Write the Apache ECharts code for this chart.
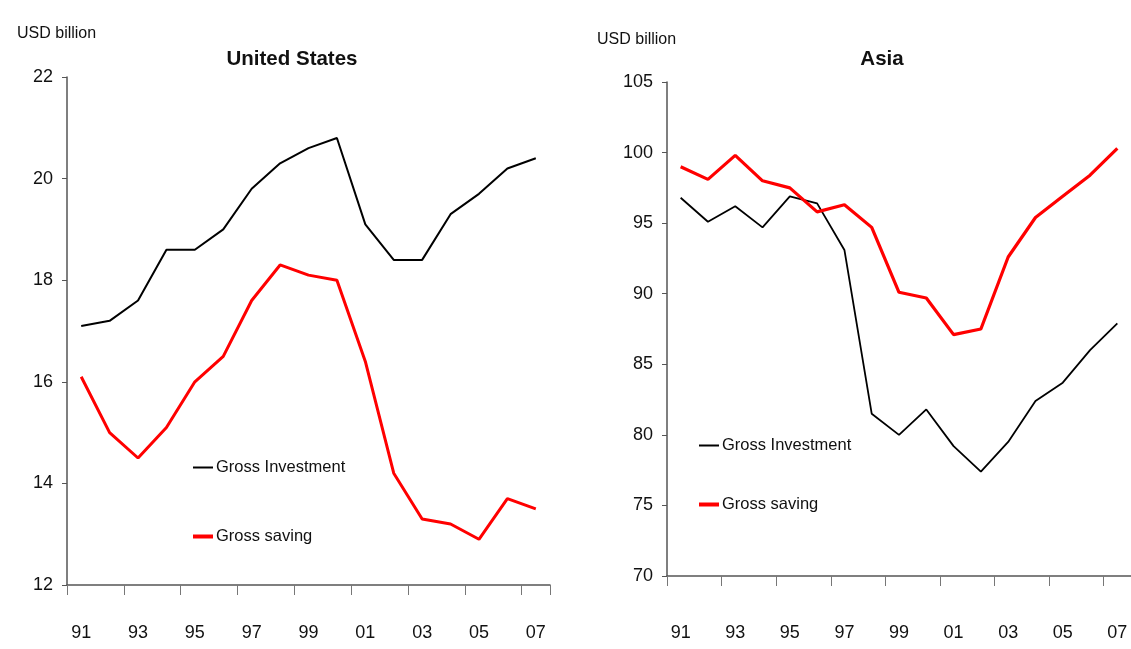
<!DOCTYPE html>
<html>
<head>
<meta charset="utf-8">
<script src="https://cdn.jsdelivr.net/npm/echarts@6/dist/echarts.min.js"></script>
<style>
html,body{margin:0;padding:0;background:#fff;}
#chart{width:1131px;height:649px;}
</style>
</head>
<body>
<div id="chart"></div>
<script>
const years = ['91','92','93','94','95','96','97','98','99','00','01','02','03','04','05','06','07'];
const usInvestment = [17.1,17.2,17.6,18.6,18.6,19.0,19.8,20.3,20.6,20.8,19.1,18.4,18.4,19.3,19.7,20.2,20.4];
const usSaving = [16.1,15.0,14.5,15.1,16.0,16.5,17.6,18.3,18.1,18.0,16.4,14.2,13.3,13.2,12.9,13.7,13.5];
const asiaInvestment = [96.8,95.1,96.2,94.7,96.9,96.4,93.1,81.5,80.0,81.8,79.2,77.4,79.5,82.4,83.7,86.0,87.9];
const asiaSaving = [99.0,98.1,99.8,98.0,97.5,95.8,96.3,94.7,90.1,89.7,87.1,87.5,92.6,95.4,96.9,98.4,100.3];
const usTicks = {min:12, max:22, interval:2};
const asiaTicks = {min:70, max:105, interval:5};

const FONT = "'Liberation Sans','Arial',sans-serif";
const chart = echarts.init(document.getElementById('chart'), null, {renderer:'canvas'});

function xAxisCfg(gridIndex, margin){
  return {
    type:'category', gridIndex, data:years, boundaryGap:true,
    axisLine:{show:true, lineStyle:{color:'#555', width:1.5}},
    axisTick:{show:true, interval:1, length:10, alignWithLabel:false, lineStyle:{color:'#777', width:1}},
    axisLabel:{interval:1, margin, fontFamily:FONT, fontSize:18, color:'#111'},
    splitLine:{show:false}
  };
}
function yAxisCfg(gridIndex, t){
  return {
    type:'value', gridIndex, min:t.min, max:t.max, interval:t.interval,
    axisLine:{show:true, lineStyle:{color:'#555', width:1.5}},
    axisTick:{show:true, length:5, lineStyle:{color:'#555', width:1}},
    axisLabel:{margin:14, fontFamily:FONT, fontSize:18, color:'#111'},
    splitLine:{show:false}
  };
}
function legendCfg(name, left, top, h){
  return {
    data:[{name, icon:'rect'}], left, top, padding:0, orient:'horizontal',
    itemWidth:20, itemHeight:h, itemGap:4, selectedMode:false,
    textStyle:{fontFamily:FONT, fontSize:16.5, color:'#111', padding:[0,0,0,-2]}
  };
}

const option = {
  backgroundColor:'#fff',
  animation:false,
  title:[
    {text:'United States', left:287, top:44, textAlign:'center', textStyle:{fontFamily:FONT, fontSize:20.5, fontWeight:'bold', color:'#111'}},
    {text:'Asia', left:877, top:44, textAlign:'center', textStyle:{fontFamily:FONT, fontSize:20.5, fontWeight:'bold', color:'#111'}},
    {text:'USD billion', left:12, top:21, textStyle:{fontFamily:FONT, fontSize:16, fontWeight:'normal', color:'#111'}},
    {text:'USD billion', left:592, top:27, textStyle:{fontFamily:FONT, fontSize:16, fontWeight:'normal', color:'#111'}}
  ],
  grid:[
    {left:67, right:581, top:77, bottom:64},
    {left:667, right:-7, top:82, bottom:73}
  ],
  xAxis:[xAxisCfg(0, 39), xAxisCfg(1, 48)],
  yAxis:[yAxisCfg(0, usTicks), yAxisCfg(1, asiaTicks)],
  legend:[
    legendCfg('Gross Investment', 193, 459, 2),
    legendCfg('Gross saving', 193, 528, 4),
    legendCfg('Gross Investment', 699, 437, 2),
    legendCfg('Gross saving', 699, 496, 4)
  ],
  series:[
    {name:'Gross Investment', type:'line', xAxisIndex:0, yAxisIndex:0, data:usInvestment, symbol:'none', lineStyle:{color:'#000', width:2}, itemStyle:{color:'#000'}},
    {name:'Gross saving', type:'line', xAxisIndex:0, yAxisIndex:0, data:usSaving, symbol:'none', lineStyle:{color:'#ff0000', width:3}, itemStyle:{color:'#ff0000'}},
    {name:'Gross Investment', type:'line', xAxisIndex:1, yAxisIndex:1, data:asiaInvestment, symbol:'none', lineStyle:{color:'#000', width:1.8}, itemStyle:{color:'#000'}},
    {name:'Gross saving', type:'line', xAxisIndex:1, yAxisIndex:1, data:asiaSaving, symbol:'none', z:3, lineStyle:{color:'#ff0000', width:3.2}, itemStyle:{color:'#ff0000'}}
  ]
};
chart.setOption(option);
</script>
</body>
</html>
